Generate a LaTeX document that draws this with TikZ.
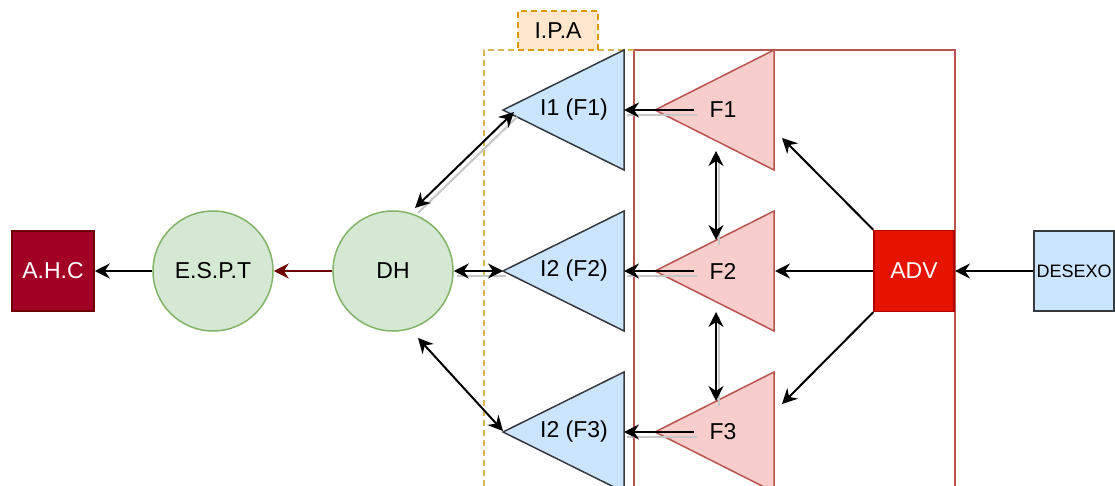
\documentclass[tikz,border=0pt]{standalone}
\usepackage{fontspec}
\setmainfont{Liberation Sans}
\usetikzlibrary{arrows.meta}
\definecolor{ahcfill}{HTML}{A20025}
\definecolor{ahcline}{HTML}{6F0000}
\definecolor{gfill}{HTML}{D5E8D4}
\definecolor{gline}{HTML}{82B366}
\definecolor{bfill}{HTML}{CCE5FF}
\definecolor{bline}{HTML}{36393D}
\definecolor{rfill}{HTML}{F8CECC}
\definecolor{rline}{HTML}{B85450}
\definecolor{advfill}{HTML}{E51400}
\definecolor{advline}{HTML}{B20000}
\definecolor{ofill}{HTML}{FFE6CC}
\definecolor{oline}{HTML}{D79B00}
\definecolor{yline}{HTML}{D6B656}
\begin{document}
\begin{tikzpicture}[x=1pt,y=-1pt,
  lbl/.style={font=\fontsize{23}{27}\selectfont, inner sep=0pt},
  circ/.style={circle, draw=gline, fill=gfill, line width=1.5pt, minimum size=120pt, inner sep=0pt, font=\fontsize{23}{27}\selectfont},
  sq/.style={rectangle, line width=1.5pt, inner sep=0pt, font=\fontsize{23}{27}\selectfont},
  conn/.style={line width=2pt, -{Stealth[length=15pt,width=15pt,inset=5pt]}},
  bconn/.style={line width=2pt, {Stealth[length=15pt,width=15pt,inset=5pt]}-{Stealth[length=15pt,width=15pt,inset=5pt]}},
  ghost/.style={preaction={draw=black!22, line width=2pt, arrows=-, transform canvas={shift={(3pt,-5pt)}}}},
  btri/.style={draw=bline, fill=bfill, line width=1.5pt, line join=miter},
  rtri/.style={draw=rline, fill=rfill, line width=1.5pt, line join=miter},
]
\useasboundingbox (0,0) rectangle (1115,486);
\clip (0,0) rectangle (1115,486);

% containers
\draw[rline, line width=1.5pt] (634,50) rectangle (955,520);
\draw[yline, line width=1.5pt, dash pattern=on 6pt off 4pt] (634,50) -- (484,50) -- (484,520);
\node[sq, draw=oline, fill=ofill, dash pattern=on 6pt off 4pt, minimum width=80pt, minimum height=39pt] (ipa) at (558,30.5) {I.P.A};

% triangles
\draw[btri] (503,110) -- (624,50) -- (624,170) -- cycle;
\draw[btri] (503,271) -- (624,211) -- (624,331) -- cycle;
\draw[btri] (503,432) -- (624,372) -- (624,492) -- cycle;
\draw[rtri] (655,110) -- (774,50) -- (774,170) -- cycle;
\draw[rtri] (655,271) -- (774,211) -- (774,331) -- cycle;
\draw[rtri] (655,432) -- (774,372) -- (774,492) -- cycle;

\node[lbl] (i1) at (574,110) {I1 (F1)};
\node[lbl] (i2) at (574,271) {I2 (F2)};
\node[lbl] (i3) at (574,432) {I2 (F3)};
\node[lbl] (f1) at (723,110) {F1};
\node[lbl] (f2) at (723,271) {F2};
\node[lbl] (f3) at (723,432) {F3};

\coordinate (i1tip) at (503,110);
\coordinate (i2tip) at (503,271);
\coordinate (i3tip) at (503,432);
\coordinate (i1back) at (624,110);
\coordinate (i2back) at (624,271);
\coordinate (i3back) at (624,432);
\coordinate (f1s) at (694,110);
\coordinate (f2s) at (694,271);
\coordinate (f3s) at (694,432);
\coordinate (f1bot) at (716,151);
\coordinate (f2top) at (716,240);
\coordinate (f2bot) at (716,312);
\coordinate (f3top) at (716,401);
\coordinate (f1side) at (782,138);
\coordinate (f2side) at (775,271);
\coordinate (f3side) at (782,404);
\coordinate (dhup) at (415,208);
\coordinate (i1in) at (514,112);
\coordinate (dhdn) at (418,338);
\coordinate (i3in) at (503,431);
\coordinate (redin) at (955,271);

% nodes
\node[sq, draw=ahcline, fill=ahcfill, text=white, minimum width=82pt, minimum height=80pt] (ahc) at (53,271) {A.H.C};
\node[circ] (espt) at (213,271) {E.S.P.T};
\node[circ] (dh) at (393,271) {DH};
\node[sq, draw=advline, fill=advfill, text=white, minimum width=80pt, minimum height=81pt] (adv) at (914,271) {ADV};
\node[sq, draw=bline, fill=bfill, minimum width=80pt, minimum height=80pt, font=\fontsize{18}{22}\selectfont] (desexo) at (1074,271) {DESEXO};

% connectors
\draw[conn] (espt.west) -- (ahc.east);
\draw[line width=2pt, draw=ahcline, -{Stealth[length=15pt,width=15pt,inset=5pt,fill=ahcline]}] (dh.west) -- (espt.east);
\draw[bconn, ghost] (dh.east) -- (i2tip);
\draw[bconn, ghost] (dhup) -- (i1in);
\draw[bconn] (dhdn) -- (i3in);
\draw[conn, ghost] (f1s) -- (i1back);
\draw[conn, ghost] (f2s) -- (i2back);
\draw[conn, ghost] (f3s) -- (i3back);
\draw[bconn, ghost] (f1bot) -- (f2top);
\draw[bconn, ghost] (f2bot) -- (f3top);
\draw[conn] (adv.north west) -- (f1side);
\draw[conn] (adv.west) -- (f2side);
\draw[conn] (adv.south west) -- (f3side);
\draw[conn] (desexo.west) -- (redin);
\end{tikzpicture}
\end{document}
